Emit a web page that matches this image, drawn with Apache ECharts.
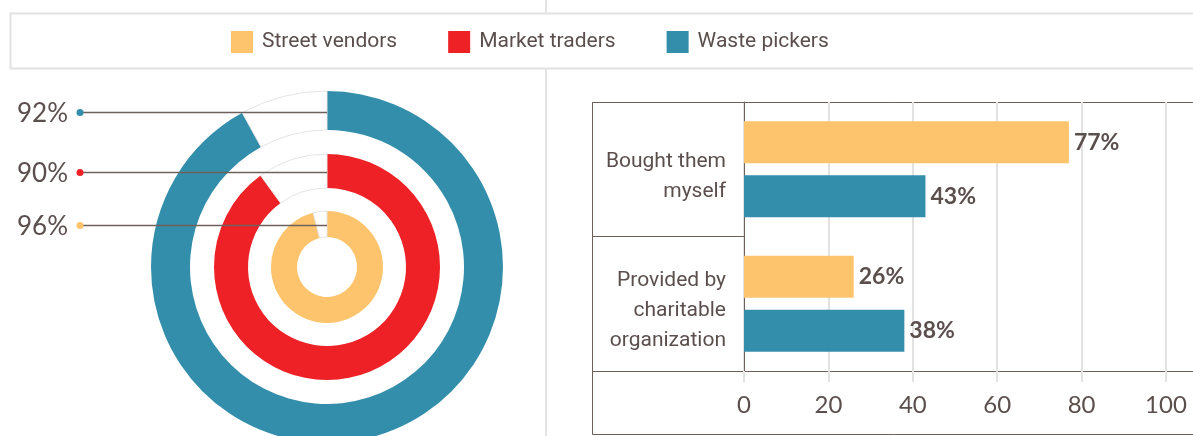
<!DOCTYPE html>
<html>
<head>
<meta charset="utf-8">
<script src="https://cdn.jsdelivr.net/npm/echarts@6/dist/echarts.min.js"></script>
<style>
    html, body { margin: 0; padding: 0; background: #fff; }
    #chart { width: 1193px; height: 436px; }
</style>
</head>
<body>
<div id="chart"></div>
<script>
// groups and colours
const groups = ['Street vendors', 'Market traders', 'Waste pickers']
const groupColors = ['#fdc46d', '#ee2226', '#338eab']

// left rings: share of each group (%)
const ringValues = [96, 90, 92]

// right bars: where the items came from (%)
const sourceCategories = ['Bought them\nmyself', 'Provided by\ncharitable\norganization']
const streetVendorShare = [77, 26]
const wastePickerShare = [43, 38]
const xTickStep = 20

const textColor = '#5b4f4d'
const lineColor = '#6d605d'
const lightLine = '#e2e2e2'

// ring layout
const ringCenter = [327, 267]
const ringRadius = [[30, 56], [79, 113], [137, 176]]
const leaderX = 80

const myChart = echarts.init(document.getElementById('chart'))

const pieSeries = groups.map((g, i) => ({
    type: 'pie',
    name: g,
    center: ringCenter,
    radius: ringRadius[i],
    startAngle: 90,
    silent: true,
    label: { show: false },
    labelLine: { show: false },
    data: [
        { name: g, value: ringValues[i], itemStyle: { color: groupColors[i] } },
        {
            name: 'rest',
            value: 100 - ringValues[i],
            itemStyle: { color: 'rgba(0,0,0,0)', borderColor: '#e4e4e4', borderWidth: 1 },
        },
    ],
}))

// leader lines + value texts for rings (drawn on top of rings)
const leaders = []
groups.forEach((g, i) => {
    const y = Math.round(ringCenter[1] - (ringRadius[i][0] + ringRadius[i][1]) / 2) + 1.5
    leaders.push({
        type: 'line',
        z: 100,
        shape: { x1: leaderX, y1: y, x2: ringCenter[0], y2: y },
        style: { stroke: lineColor, lineWidth: 1.3 },
    })
    leaders.push({
        type: 'circle',
        z: 101,
        shape: { cx: leaderX, cy: y, r: 3.5 },
        style: { fill: groupColors[i] },
    })
    leaders.push({
        type: 'text',
        z: 101,
        x: 68,
        y: y + 1,
        style: {
            text: ringValues[i] + '%',
            align: 'right',
            verticalAlign: 'middle',
            fill: textColor,
            font: '26px Lato',
        },
    })
})

const barLabel = {
    show: true,
    position: 'right',
    distance: 5,
    formatter: '{c}%',
    fontFamily: 'Lato',
    fontWeight: 'bold',
    fontSize: 23,
    color: textColor,
}

myChart.setOption({
    animation: false,
    textStyle: { fontFamily: 'Roboto' },
    graphic: [
        // divider between the two panels
        {
            type: 'line',
            z: -10,
            shape: { x1: 546, y1: 0, x2: 546, y2: 436 },
            style: { stroke: lightLine, lineWidth: 2 },
        },
        // legend box
        {
            type: 'rect',
            z: -5,
            shape: { x: 10.5, y: 13.5, width: 1200, height: 55 },
            style: { fill: '#fff', stroke: lightLine, lineWidth: 2 },
        },
        // box round the bar chart
        {
            type: 'rect',
            z: -5,
            shape: { x: 592.5, y: 102.5, width: 700, height: 332 },
            style: { fill: 'none', stroke: lineColor, lineWidth: 1 },
        },
        ...leaders,
    ],
    legend: {
        left: 231,
        top: 31,
        padding: 0,
        icon: 'rect',
        itemWidth: 22,
        itemHeight: 22,
        itemGap: 51,
        selectedMode: false,
        textStyle: {
            color: textColor,
            fontFamily: 'Roboto',
            fontSize: 21,
            padding: [0, 0, 0, 4],
        },
        data: groups.map((g, i) => ({ name: g, itemStyle: { color: groupColors[i] } })),
    },
    grid: {
        left: 744,
        right: -1,
        top: 102,
        bottom: 65,
    },
    xAxis: {
        type: 'value',
        min: 0,
        max: 106.4,
        interval: xTickStep,
        axisLine: { show: true, lineStyle: { color: lineColor, width: 1 } },
        axisTick: { show: true, length: 11, lineStyle: { color: lightLine, width: 2 } },
        splitLine: { show: true, showMaxLine: false, lineStyle: { color: lightLine, width: 2 } },
        axisLabel: {
            showMaxLabel: false,
            margin: 22,
            color: textColor,
            fontFamily: 'Lato',
            fontSize: 24,
        },
    },
    yAxis: {
        type: 'category',
        inverse: true,
        data: sourceCategories,
        axisLine: { show: true, lineStyle: { color: lineColor, width: 1 } },
        // ticks stretched left to form the row separators of the table
        axisTick: { show: true, length: 152, lineStyle: { color: lineColor, width: 1 } },
        splitLine: { show: false },
        axisLabel: {
            margin: 18,
            align: 'right',
            // empty first line pushes the block a little below the row centre
            formatter: v => '{sp|}\n' + v.split('\n').map(l => '{t|' + l + '}').join('\n'),
            rich: {
                sp: { height: 14, lineHeight: 14 },
                t: {
                    color: textColor,
                    fontFamily: 'Roboto',
                    fontSize: 21,
                    lineHeight: 30,
                    align: 'right',
                },
            },
        },
    },
    series: [
        ...pieSeries,
        {
            type: 'bar',
            name: 'Street vendors',
            data: streetVendorShare,
            barWidth: 42,
            barGap: '28%',
            itemStyle: { color: groupColors[0] },
            label: barLabel,
            silent: true,
        },
        {
            type: 'bar',
            name: 'Waste pickers',
            data: wastePickerShare,
            barWidth: 42,
            barGap: '28%',
            itemStyle: { color: groupColors[2] },
            label: barLabel,
            silent: true,
        },
    ],
})
</script>
</body>
</html>
